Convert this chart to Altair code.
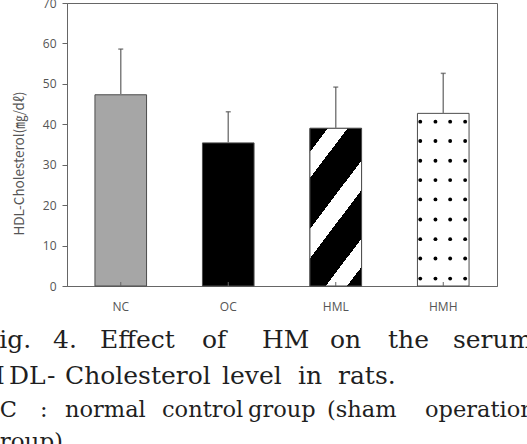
import altair as alt
import pandas as pd

# Serum HDL-cholesterol by group (mean and SD, mg/dl)
groups = ["NC", "OC", "HML", "HMH"]
means = [47.3, 35.4, 39.0, 42.7]
sds = [11.3, 7.7, 10.2, 9.9]
y_ticks = [0, 10, 20, 30, 40, 50, 60, 70]

# Dotted fill of the HMH bar: row heights (mg/dl) and column offsets
# from the left edge of the bar (px)
dot_rows = [40.65, 35.87, 30.99, 26.20, 21.42, 16.46, 11.58, 6.79, 1.83]
dot_cols = [2.8, 18.0, 32.7, 47.7]

# Figure caption, word by word
caption_words = [
    ["Fig.", "4.", "Effect", "of", "HM", "on", "the", "serum"],
    ["H", "D", "L", "-", "Cholesterol", "level", "in", "rats."],
    ["NC", ":", "normal", "control", "group", "(sham", "operation"],
    ["group)"],
]
# justified layout: left edge of each word, baseline and font size of each line (px)
caption_x = [
    [-18, 53, 100, 202, 262, 330, 388, 453],
    [-17, 9, 29, 47, 65, 222, 298, 338],
    [-20, 40, 65, 162, 248, 327, 425],
    [-15],
]
caption_base = [348, 384, 417, 449]
caption_size = [25, 25, 22.5, 23]

PAD_L, PAD_T, PAD_R, PAD_B = 67, 3, 30, 158
W, H = 527 - PAD_L - PAD_R, 444 - PAD_T - PAD_B

df = pd.DataFrame({"group": groups, "mean": means, "sd": sds})
df["top"] = df["mean"] + df["sd"]

dots = pd.DataFrame(
    [{"group": "HMH", "row": r, "dx": c} for r in dot_rows for c in dot_cols]
)

cap = pd.DataFrame(
    [
        {"word": w, "px": x - PAD_L, "py": caption_base[i] - PAD_T, "fs": caption_size[i]}
        for i, (ws, xs) in enumerate(zip(caption_words, caption_x))
        for w, x in zip(ws, xs)
    ]
)

x_scale = alt.Scale(domain=groups, paddingInner=0.52, paddingOuter=0.26)
y_scale = alt.Scale(domain=[0, 70], nice=False, zero=True)

x_enc = alt.X(
    "group:N",
    scale=x_scale,
    sort=groups,
    axis=alt.Axis(
        title=None,
        labelAngle=0,
        ticks=False,
        labelPadding=15,
        labelFont="Open Sans",
        labelFontSize=12,
        labelColor="#555555",
        domainColor="#666666",
    ),
)
x_plain = alt.X("group:N", scale=x_scale, sort=groups, axis=None)

bars = alt.Chart(df).mark_bar(stroke="#4d4d4d", strokeWidth=1).encode(
    x=x_enc,
    y=alt.Y(
        "mean:Q",
        scale=y_scale,
        axis=alt.Axis(
            values=y_ticks,
            grid=False,
            tickSize=5,
            labelPadding=6,
            labelFont="Open Sans",
            labelFontSize=12,
            labelColor="#555555",
            tickColor="#666666",
            domainColor="#666666",
            title="HDL-Cholesterol(㎎/dℓ)",
            titleFont="Noto Sans CJK KR",
            titleFontSize=13.5,
            titleFontWeight="normal",
            titleColor="#555555",
            titleX=-48,
            titleY=160,
            titleBaseline="middle",
        ),
    ),
    color=alt.Color(
        "group:N",
        scale=alt.Scale(domain=groups, range=["#a6a6a6", "#000000", "#ffffff", "#ffffff"]),
        legend=None,
    ),
)

# Diagonal black/white stripes for HML
stops = [
    (0.0, "black"), (0.105, "black"), (0.105, "white"), (0.22, "white"),
    (0.22, "black"), (0.445, "black"), (0.445, "white"), (0.575, "white"),
    (0.575, "black"), (0.79, "black"), (0.79, "white"), (0.915, "white"),
    (0.915, "black"), (1.0, "black"),
]
stripes = alt.LinearGradient(
    gradient="linear",
    x1=0, y1=0, x2=0.5226, y2=1.2068,
    stops=[alt.GradientStop(offset=o, color=c) for o, c in stops],
)
hml = alt.Chart(df).transform_filter(alt.datum.group == "HML").mark_bar(
    fill=stripes, stroke="#4d4d4d", strokeWidth=1
).encode(x=x_plain, y=alt.Y("mean:Q", scale=y_scale, axis=None))

dot_layer = alt.Chart(dots).mark_circle(size=15, color="black", opacity=1).encode(
    x=x_plain,
    xOffset=alt.XOffset("dx:Q", scale=None),
    y=alt.Y("row:Q", scale=y_scale, axis=None),
)

err = alt.Chart(df).mark_rule(color="#7f7f7f", strokeWidth=1.5).encode(
    x=x_plain,
    y=alt.Y("mean:Q", scale=y_scale, axis=None),
    y2="top:Q",
)
caps = alt.Chart(df).mark_tick(color="#555555", size=5, thickness=1.5).encode(
    x=x_plain,
    y=alt.Y("top:Q", scale=y_scale, axis=None),
)
inner_ticks = alt.Chart(df).mark_rule(color="#666666", strokeWidth=1).encode(
    x=x_plain,
    y=alt.value(H),
    y2=alt.value(H - 4),
)

caption = alt.Chart(cap).mark_text(
    align="left",
    baseline="alphabetic",
    font="DejaVu Serif",
    color="#1f1f1f",
).encode(
    x=alt.X("px:Q", scale=None, axis=None),
    y=alt.Y("py:Q", scale=None, axis=None),
    size=alt.Size("fs:Q", scale=None, legend=None),
    text="word:N",
)

chart = (
    alt.layer(bars, hml, dot_layer, err, caps, inner_ticks, caption)
    .resolve_scale(x="independent", y="independent", color="independent")
    .properties(
        width=W,
        height=H,
        padding={"left": PAD_L, "top": PAD_T, "right": PAD_R, "bottom": PAD_B},
        autosize=alt.AutoSizeParams(type="none"),
        background="white",
    )
    .configure_view(stroke="#666666", strokeWidth=1)
)

chart.save("out.html", embed_options={"renderer": "svg", "actions": False})
